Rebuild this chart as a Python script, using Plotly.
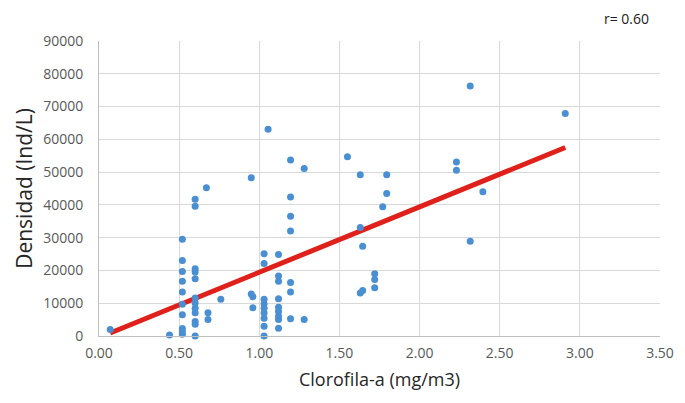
import numpy as np
import plotly.graph_objects as go

# Chlorophyll-a (mg/m3) and density (Ind/L)
clorofila = [
    0.07,
    0.44,
    0.52, 0.52, 0.52, 0.52, 0.52, 0.52, 0.52, 0.52, 0.52, 0.52,
    0.60, 0.60, 0.60, 0.60, 0.60, 0.60, 0.60, 0.60, 0.60, 0.60, 0.60, 0.60,
    0.67,
    0.68, 0.68,
    0.76,
    0.95, 0.95, 0.96, 0.96,
    1.03, 1.03, 1.03, 1.03, 1.03, 1.03, 1.03, 1.03, 1.03,
    1.055,
    1.12, 1.12, 1.12, 1.12, 1.12, 1.12, 1.12, 1.12, 1.12,
    1.195, 1.195, 1.195, 1.195, 1.195, 1.195, 1.195,
    1.28, 1.28,
    1.55,
    1.63, 1.63, 1.63,
    1.645, 1.645,
    1.72, 1.72, 1.72,
    1.77,
    1.795, 1.795,
    2.23, 2.23,
    2.316, 2.316,
    2.395,
    2.909,
]
densidad = [
    2000,
    300,
    29500, 23000, 19700, 16700, 13400, 9700, 6500, 2300, 1300, 500,
    41700, 39600, 20500, 19500, 17500, 11600, 10100, 8500, 7100, 4400, 3600, 0,
    45200,
    7100, 5000,
    11200,
    48300, 12800, 12000, 8600,
    25100, 22100, 11200, 9800, 8500, 7000, 5400, 3000, 0,
    63100,
    24900, 18300, 16700, 11400, 8800, 7500, 6000, 5000, 2400,
    53700, 42400, 36500, 32000, 16300, 13400, 5300,
    51100, 5000,
    54700,
    49200, 33100, 13100,
    27400, 13900,
    19000, 17200, 14700,
    39400,
    49200, 43500,
    53100, 50600,
    76300, 28900,
    44000,
    67900,
]

x_ticks = [0.0, 0.5, 1.0, 1.5, 2.0, 2.5, 3.0, 3.5]
x_tick_labels = ["0.00", "0.50", "1.00", "1.50", "2.00", "2.50", "3.00", "3.50"]
y_ticks = [0, 10000, 20000, 30000, 40000, 50000, 60000, 70000, 80000, 90000]
y_tick_labels = [str(v) for v in y_ticks]
r_label = "r= 0.60"

xa = np.array(clorofila)
ya = np.array(densidad)
slope, intercept = np.polyfit(xa, ya, 1)
x_fit = np.array([xa.min(), xa.max()])
y_fit = slope * x_fit + intercept

FONT = "Open Sans, Noto Sans, sans-serif"

fig = go.Figure()
fig.add_trace(go.Scatter(
    x=x_fit, y=y_fit, mode="lines",
    line=dict(color="#e0201b", width=5),
    hoverinfo="skip", showlegend=False,
))
fig.add_trace(go.Scatter(
    x=clorofila, y=densidad, mode="markers",
    marker=dict(color="#4a8fd2", size=7),
    showlegend=False, cliponaxis=False,
))

# the page body adds an 8 px margin, so the figure is 8 px smaller each way
fig.update_layout(
    width=677, height=395,
    margin=dict(l=91, r=25, t=33, b=67, autoexpand=False),
    paper_bgcolor="white", plot_bgcolor="white",
    font=dict(family=FONT, color="#595959", size=13),
    showlegend=False,
    annotations=[dict(
        text=r_label, x=1.0, y=1.0, xref="paper", yref="paper",
        xanchor="right", yanchor="bottom", yshift=11, xshift=-9,
        showarrow=False, font=dict(family=FONT, size=14, color="#222222"),
    )],
)
fig.update_xaxes(
    range=[0, 3.5], tickvals=x_ticks, ticktext=x_tick_labels,
    showgrid=True, gridcolor="#d9d9d9", gridwidth=1,
    showline=True, linecolor="#bfbfbf", linewidth=1, mirror=False,
    zeroline=False, ticks="", ticklen=0, ticklabelstandoff=4,
    automargin=False,
    title=dict(text="Clorofila-a (mg/m3)", font=dict(size=18, color="#262626"), standoff=12),
    tickfont=dict(size=14, color="#595959"),
)
fig.update_yaxes(
    range=[0, 90000], tickvals=y_ticks, ticktext=y_tick_labels,
    showgrid=True, gridcolor="#d9d9d9", gridwidth=1,
    showline=True, linecolor="#bfbfbf", linewidth=1,
    zeroline=False, ticks="", ticklabelstandoff=12,
    automargin=False,
    title=dict(text="Densidad (Ind/L)", font=dict(size=21, color="#262626"), standoff=4),
    tickfont=dict(size=14, color="#595959"),
)

fig.write_html("out.html")
